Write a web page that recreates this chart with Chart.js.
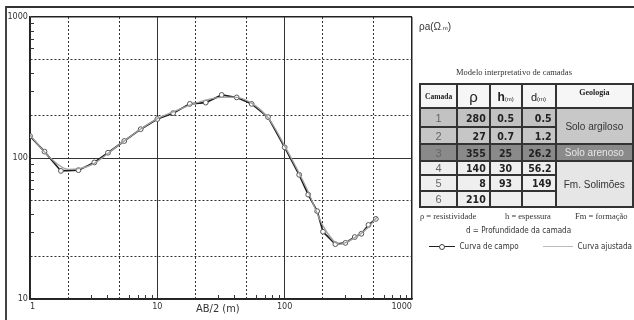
<!DOCTYPE html>
<html>
<head>
<meta charset="utf-8">
<script src="https://cdn.jsdelivr.net/npm/chart.js@4/dist/chart.umd.min.js"></script>
<style>
  html, body { margin: 0; padding: 0; background: #fff; }
  body { width: 634px; height: 320px; overflow: hidden; position: relative; font-family: Arial, "Liberation Sans", sans-serif; color: #222; }
  #wrap { position: absolute; left: 0; top: 0; width: 634px; height: 320px; }
  #frame { position: absolute; left: 5px; top: 6px; width: 700px; height: 400px; border-top: 2px solid #333; border-left: 2px solid #444; }
  #xtitle { position: absolute; left: 196px; top: 302px; font-size: 11px; font-family: "DejaVu Sans Condensed", Arial, sans-serif; color: #333; }
  #unit { position: absolute; left: 419px; top: 21px; font-size: 10px; color: #333; }
  #unit small { font-size: 6px; }
  #ttl { position: absolute; left: 419px; top: 67px; width: 190px; text-align: center; font-family: "Liberation Serif", "Times New Roman", serif; font-size: 8.5px; color: #333; }
  table { position: absolute; left: 419px; top: 83px; border-collapse: collapse; table-layout: fixed; }
  td { border: 2px solid #333; padding: 0 3px; overflow: hidden; white-space: nowrap; }
  td.n { text-align: center; color: #666; font-size: 11px; }
  td.v { text-align: right; font-family: "DejaVu Sans Condensed", "Liberation Sans", sans-serif; font-weight: bold; font-size: 10.5px; color: #222; }
  td.g { text-align: center; font-size: 10px; color: #333; }
  .hd td { background: #f6f6f6; text-align: center; }
  .hd .cam { font-family: "Liberation Serif", serif; font-weight: bold; font-size: 7.5px; }
  .hd .geo { font-family: "Liberation Serif", serif; font-weight: bold; font-size: 8px; vertical-align: top; padding-top: 3px; }
  .hd small { font-size: 6px; }
  .leg { position: absolute; font-size: 8.5px; color: #333; white-space: nowrap; }
  .serif { font-family: "Liberation Serif", serif; }
  .narrow { font-family: "DejaVu Sans Condensed", Arial, sans-serif; font-size: 8px; }
</style>
</head>
<body>
<div id="wrap"><canvas id="c" width="634" height="320"></canvas></div>
<div id="frame"></div>
<div id="xtitle">AB/2 (m)</div>
<div id="unit">ρa(Ω<small>.m</small>)</div>
<div id="ttl">Modelo interpretativo de camadas</div>
<table id="tbl"></table>
<div class="leg serif" style="left:420px;top:211px;">ρ = resistividade</div>
<div class="leg serif" style="left:505px;top:211px;">h = espessura</div>
<div class="leg serif" style="left:575px;top:211px;">Fm = formação</div>
<div class="leg narrow" style="left:466px;top:226px;">d = Profundidade da camada</div>
<div class="leg narrow" style="left:429px;top:242px;">
  <span style="display:inline-block;width:26px;height:7px;position:relative;vertical-align:middle;">
    <span style="position:absolute;left:0;right:0;top:3px;border-top:1.5px solid #222;"></span>
    <span style="position:absolute;left:10px;top:0.5px;width:4px;height:4px;border:1px solid #444;border-radius:50%;background:#fff;"></span>
  </span>&nbsp;&nbsp;Curva de campo</div>
<div class="leg narrow" style="left:543px;top:242px;">
  <span style="display:inline-block;width:30px;border-top:1px solid #bbb;vertical-align:middle;"></span>&nbsp;&nbsp;Curva ajustada</div>

<script>
// field curve (sounding points)
const abField = [1, 1.3, 1.75, 2.4, 3.2, 4.1, 5.5, 7.4, 10, 13.3, 18, 24, 32, 42, 55, 74, 100, 130, 153, 180, 200, 250, 300, 355, 400, 455, 520];
const rhoField = [143, 111, 81, 82, 93, 109, 132, 160, 189, 208, 242, 247, 280, 269, 242, 195, 119, 76, 55, 42, 30, 24.5, 25, 27.5, 29, 33.5, 37];

// fitted model curve
const abFit = [1, 1.5, 2, 3, 5, 7, 10, 15, 20, 30, 40, 55, 75, 100, 150, 200, 270, 350, 450, 530];
const rhoFit = [145, 97, 83, 89, 124, 155, 190, 222, 245, 268, 270, 245, 190, 122, 60, 33, 24.5, 27, 32, 38];

// axis tick values
const xGrid = [1, 2, 5, 10, 20, 50, 100, 200, 500, 1000];
const yGrid = [10, 20, 50, 100, 200, 500, 1000];
const decades = [1, 10, 100, 1000];
const minorSteps = [3, 4, 6, 7, 8, 9];

// layer model table
const layers = ['1', '2', '3', '4', '5', '6'];
const layerRho = ['280', '27', '355', '140', '8', '210'];
const layerH = ['0.5', '0.7', '25', '30', '93', ''];
const layerD = ['0.5', '1.2', '26.2', '56.2', '149', ''];
const geology = [
    { text: 'Solo argiloso', rows: 2 },
    { text: 'Solo arenoso', rows: 1 },
    { text: 'Fm. Solimões', rows: 3 }
];
const rowFill = ['#c2c2c2', '#c6c6c6', '#8a8a8a', '#efefef', '#efefef', '#efefef'];
const geoFill = ['#c8c8c8', '#8a8a8a', '#e6e6e6'];
const rowHeights = [19, 17, 17, 14, 16, 16];

function buildTable() {
    const tbl = document.getElementById('tbl');
    let html = '<colgroup><col style="width:38px"><col style="width:34px"><col style="width:34px"><col style="width:35px"><col style="width:80px"></colgroup>';
    html += '<tr class="hd" style="height:24px"><td class="cam">Camada</td><td style="font-size:15px">ρ</td>' +
        '<td><b style="font-size:12px">h</b><small>(m)</small></td><td><span style="font-size:11px">d</span><small>(m)</small></td>' +
        '<td class="geo">Geologia</td></tr>';
    let geoIdx = 0, geoLeft = 0;
    layers.forEach((layer, i) => {
        html += `<tr style="height:${rowHeights[i]}px;background:${rowFill[i]}">`;
        html += `<td class="n">${layer}</td><td class="v">${layerRho[i]}</td>`;
        html += `<td class="v" style="text-align:center">${layerH[i]}</td><td class="v">${layerD[i]}</td>`;
        if (geoLeft === 0 && geoIdx < geology.length) {
            const g = geology[geoIdx];
            const col = geoIdx === 1 ? '#e8e8e8' : '#333';
            html += `<td class="g" rowspan="${g.rows}" style="background:${geoFill[geoIdx]};color:${col}">${g.text}</td>`;
            geoLeft = g.rows;
            geoIdx++;
        }
        geoLeft--;
        html += '</tr>';
    });
    tbl.innerHTML = html;
}
buildTable();

const isDecade = v => decades.includes(v);

const minorTicks = {
    id: 'minorTicks',
    afterDatasetsDraw(chart) {
        const { ctx, scales: { x, y }, chartArea: a } = chart;
        ctx.save();
        ctx.strokeStyle = '#333';
        ctx.lineWidth = 1;
        ctx.beginPath();
        decades.forEach(d => {
            minorSteps.forEach(m => {
                const vx = d * m;
                if (vx < 1000) {
                    const px = Math.round(x.getPixelForValue(vx)) + 0.5;
                    ctx.moveTo(px, a.bottom);
                    ctx.lineTo(px, a.bottom - 4);
                }
                const vy = d * m;
                if (vy > 10 && vy < 1000) {
                    const py = Math.round(y.getPixelForValue(vy)) + 0.5;
                    ctx.moveTo(a.left, py);
                    ctx.lineTo(a.left + 4, py);
                }
            });
        });
        ctx.stroke();
        ctx.restore();
    }
};

const tickFont = { family: '"DejaVu Sans Condensed", Arial, sans-serif', size: 9 };

new Chart(document.getElementById('c'), {
    type: 'line',
    data: {
        datasets: [
            {
                label: 'Curva ajustada',
                data: abFit.map((x, i) => ({ x, y: rhoFit[i] })),
                borderColor: '#a0a0a0',
                borderWidth: 1.3,
                pointRadius: 0,
                cubicInterpolationMode: 'monotone',
                fill: false
            },
            {
                label: 'Curva de campo',
                data: abField.map((x, i) => ({ x, y: rhoField[i] })),
                borderColor: '#1a1a1a',
                borderWidth: 1.6,
                pointRadius: 2.4,
                pointBackgroundColor: '#fff',
                pointBorderColor: '#555',
                pointBorderWidth: 1,
                fill: false
            }
        ]
    },
    options: {
        responsive: false,
        animation: false,
        devicePixelRatio: 1,
        layout: { padding: { left: 0, top: 17, right: 222, bottom: 0 } },
        plugins: { legend: { display: false }, tooltip: { enabled: false } },
        scales: {
            x: {
                type: 'logarithmic',
                min: 1,
                max: 1000,
                afterBuildTicks: s => { s.ticks = xGrid.map(v => ({ value: v })); },
                afterFit: s => { s.height = 21; },
                ticks: {
                    autoSkip: false,
                    maxRotation: 0,
                    align: 'inner',
                    padding: 2,
                    color: '#333',
                    font: tickFont,
                    callback: v => isDecade(v) ? String(v) : ''
                },
                grid: {
                    drawTicks: false,
                    color: c => (c.tick && (c.tick.value === 1000)) ? '#222' : '#333',
                    lineWidth: c => (c.tick && (c.tick.value === 1000)) ? 1.5 : 1
                },
                border: {
                    color: '#222',
                    width: 1.5,
                    dash: c => (c.tick && !isDecade(c.tick.value)) ? [2, 2] : []
                }
            },
            y: {
                type: 'logarithmic',
                min: 10,
                max: 1000,
                afterBuildTicks: s => { s.ticks = yGrid.map(v => ({ value: v })); },
                afterFit: s => { s.width = 30; },
                ticks: {
                    autoSkip: false,
                    padding: 2,
                    color: '#333',
                    font: tickFont,
                    callback: v => isDecade(v) ? String(v) : ''
                },
                grid: {
                    drawTicks: false,
                    color: c => (c.tick && (c.tick.value === 1000)) ? '#222' : '#333',
                    lineWidth: c => (c.tick && (c.tick.value === 1000)) ? 1.5 : 1
                },
                border: {
                    color: '#222',
                    width: 1.5,
                    dash: c => (c.tick && !isDecade(c.tick.value)) ? [2, 2] : []
                }
            }
        }
    },
    plugins: [minorTicks]
});
</script>
</body>
</html>
